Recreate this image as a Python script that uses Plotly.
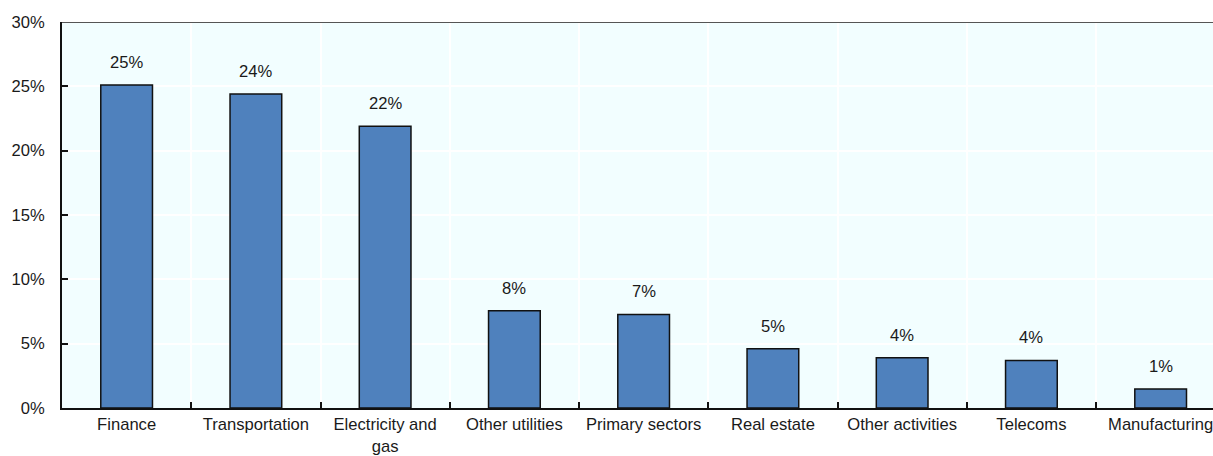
import plotly.graph_objects as go

# Share by sector (%)
sectors = ["Finance", "Transportation", "Electricity and<br>gas", "Other utilities",
           "Primary sectors", "Real estate", "Other activities", "Telecoms", "Manufacturing"]
shares = [25.1, 24.4, 21.9, 7.55, 7.27, 4.6, 3.9, 3.7, 1.48]

y_ticks = [0, 5, 10, 15, 20, 25, 30]
y_tick_labels = [f"{v}%" for v in y_ticks]

font = dict(family="Liberation Sans, Arial, sans-serif", size=16.6, color="#1a1a1a")

fig = go.Figure(
    go.Bar(
        x=sectors,
        y=shares,
        marker=dict(color="#4f81bd", line=dict(color="#111111", width=1.5)),
        width=0.40,
        hoverinfo="x+y",
    )
)

# value labels above each bar
for s, v in zip(sectors, shares):
    fig.add_annotation(
        x=s, y=v, text=f"{v:.0f}%", showarrow=False,
        yanchor="bottom", yshift=11, font=font,
    )

fig.update_layout(
    width=1213,
    height=456,
    margin=dict(l=62, r=0, t=22, b=48),
    paper_bgcolor="white",
    plot_bgcolor="#f2feff",
    font=font,
    showlegend=False,
    xaxis=dict(
        range=[-0.5, 8.405],
        automargin=False,
        tickson="boundaries",
        ticks="inside",
        ticklen=6,
        tickwidth=2,
        tickcolor="#111111",
        showgrid=True,
        gridcolor="white",
        gridwidth=1.5,
        showline=True,
        linecolor="#111111",
        linewidth=2,
        tickangle=0,
        ticklabelstandoff=0,
    ),
    yaxis=dict(
        range=[0, 30],
        automargin=False,
        tickmode="array",
        tickvals=y_ticks,
        ticktext=y_tick_labels,
        ticks="inside",
        ticklen=6,
        tickwidth=2,
        tickcolor="#111111",
        showgrid=True,
        gridcolor="white",
        gridwidth=1.5,
        showline=True,
        linecolor="#111111",
        linewidth=2,
        zeroline=False,
        ticklabelstandoff=12,
    ),
    shapes=[
        dict(type="line", xref="paper", yref="y", x0=0, x1=1, y0=30, y1=30,
             line=dict(color="#555555", width=2)),
    ],
)

fig.write_html("out.html")
